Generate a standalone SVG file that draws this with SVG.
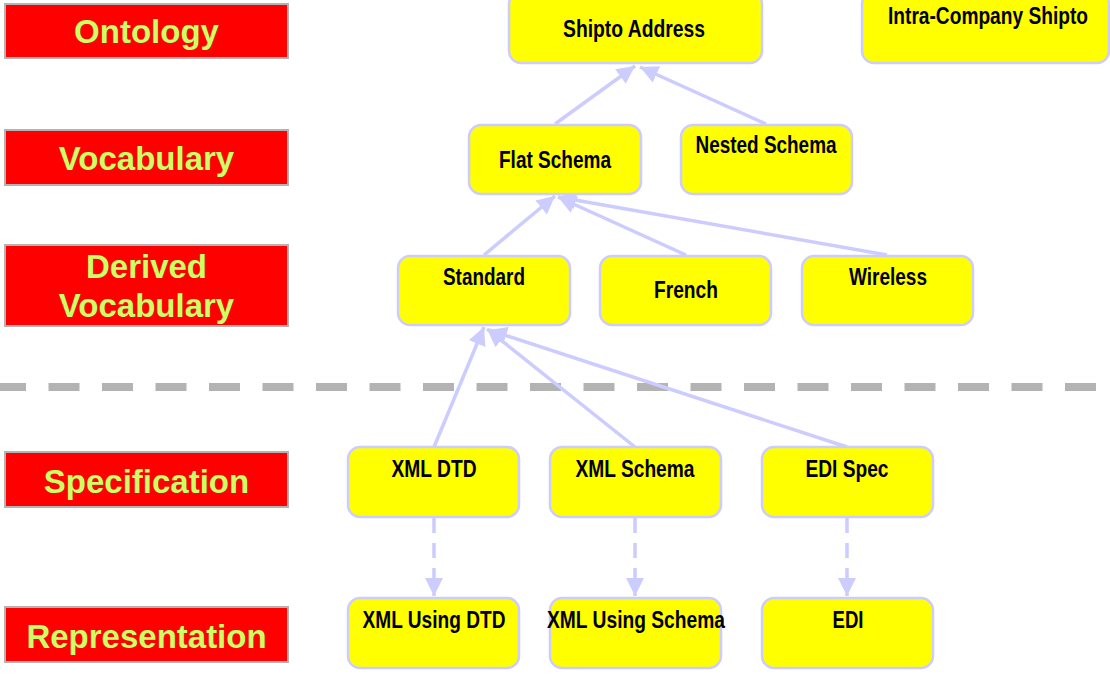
<svg xmlns="http://www.w3.org/2000/svg" width="1110" height="677" viewBox="0 0 1110 677">
<style>
.lbl rect{fill:#ff0000;stroke:#b3b3b3;stroke-width:2}
.lbl text{font-family:"Liberation Sans",Arial,sans-serif;font-weight:bold;font-size:33px;fill:#ccff66;text-anchor:middle}
.node rect{fill:#ffff00;stroke:#ccccff;stroke-width:2.5}
.node text{font-family:"Liberation Sans",Arial,sans-serif;font-weight:bold;font-size:24px;fill:#000;text-anchor:middle}
.conn line{stroke:#ccccff;stroke-width:3.5;fill:none}
.conn .d{stroke-dasharray:15 10}
</style>
<defs>
<marker id="ah" markerUnits="userSpaceOnUse" viewBox="0 0 18 18" markerWidth="18" markerHeight="18" refX="18" refY="9" orient="auto">
<path d="M0,0 L18,9 L0,18 z" fill="#ccccff"/>
</marker>
</defs>
<rect width="1110" height="677" fill="#ffffff"/>
<line x1="-5" y1="387" x2="1110" y2="387" stroke="#b3b3b3" stroke-width="8" stroke-dasharray="31 22.5"/>
<g id="lbl-ontology" class="lbl"><rect x="5" y="4" width="283" height="54"/><text x="146.5" y="43">Ontology</text></g>
<g id="lbl-vocabulary" class="lbl"><rect x="5" y="130" width="283" height="55"/><text x="146.5" y="170">Vocabulary</text></g>
<g id="lbl-derived" class="lbl"><rect x="5" y="245" width="283" height="81"/><text x="146.5" y="278">Derived</text><text x="146.5" y="317">Vocabulary</text></g>
<g id="lbl-specification" class="lbl"><rect x="5" y="452" width="283" height="55"/><text x="146.5" y="493">Specification</text></g>
<g id="lbl-representation" class="lbl"><rect x="5" y="607" width="283" height="55"/><text x="146.5" y="648">Representation</text></g>
<g id="connectors" class="conn">
<line x1="555" y1="124" x2="635" y2="66" marker-end="url(#ah)"/>
<line x1="766" y1="124" x2="640" y2="67" marker-end="url(#ah)"/>
<line x1="484" y1="255" x2="555" y2="196" marker-end="url(#ah)"/>
<line x1="686" y1="255" x2="558" y2="197" marker-end="url(#ah)"/>
<line x1="887" y1="255" x2="558" y2="197" marker-end="url(#ah)"/>
<line x1="434" y1="447" x2="484" y2="327" marker-end="url(#ah)"/>
<line x1="635" y1="447" x2="487" y2="329" marker-end="url(#ah)"/>
<line x1="847" y1="447" x2="489" y2="330" marker-end="url(#ah)"/>
<line class="d" x1="434" y1="518" x2="434" y2="596" marker-end="url(#ah)"/>
<line class="d" x1="635" y1="518" x2="635" y2="596" marker-end="url(#ah)"/>
<line class="d" x1="847" y1="518" x2="847" y2="596" marker-end="url(#ah)"/>
</g>
<g id="n-shipto" class="node"><rect x="509" y="-8" width="253" height="71" rx="12"/><text x="634" y="37" textLength="142" lengthAdjust="spacingAndGlyphs">Shipto Address</text></g>
<g id="n-intra" class="node"><rect x="862" y="-8" width="247" height="71" rx="12"/><text x="988" y="24" textLength="200" lengthAdjust="spacingAndGlyphs">Intra-Company Shipto</text></g>
<g id="n-flat" class="node"><rect x="469" y="125" width="172" height="69" rx="12"/><text x="555" y="168" textLength="112" lengthAdjust="spacingAndGlyphs">Flat Schema</text></g>
<g id="n-nested" class="node"><rect x="681" y="125" width="171" height="69" rx="12"/><text x="766" y="153" textLength="141" lengthAdjust="spacingAndGlyphs">Nested Schema</text></g>
<g id="n-standard" class="node"><rect x="398" y="256" width="172" height="69" rx="12"/><text x="484" y="285" textLength="82" lengthAdjust="spacingAndGlyphs">Standard</text></g>
<g id="n-french" class="node"><rect x="600" y="256" width="171" height="69" rx="12"/><text x="686" y="298" textLength="64" lengthAdjust="spacingAndGlyphs">French</text></g>
<g id="n-wireless" class="node"><rect x="802" y="256" width="171" height="69" rx="12"/><text x="888" y="285" textLength="78" lengthAdjust="spacingAndGlyphs">Wireless</text></g>
<g id="n-xmldtd" class="node"><rect x="348" y="447" width="171" height="70" rx="12"/><text x="434" y="477" textLength="85" lengthAdjust="spacingAndGlyphs">XML DTD</text></g>
<g id="n-xmlschema" class="node"><rect x="550" y="447" width="171" height="70" rx="12"/><text x="635" y="477" textLength="119" lengthAdjust="spacingAndGlyphs">XML Schema</text></g>
<g id="n-edispec" class="node"><rect x="762" y="447" width="171" height="70" rx="12"/><text x="847" y="477" textLength="83" lengthAdjust="spacingAndGlyphs">EDI Spec</text></g>
<g id="n-xmlusingdtd" class="node"><rect x="348" y="598" width="171" height="70" rx="12"/><text x="434" y="628" textLength="143" lengthAdjust="spacingAndGlyphs">XML Using DTD</text></g>
<g id="n-xmlusingschema" class="node"><rect x="550" y="598" width="171" height="70" rx="12"/><text x="636" y="628" textLength="178" lengthAdjust="spacingAndGlyphs">XML Using Schema</text></g>
<g id="n-edi" class="node"><rect x="762" y="598" width="171" height="70" rx="12"/><text x="848" y="628" textLength="31" lengthAdjust="spacingAndGlyphs">EDI</text></g>
</svg>
